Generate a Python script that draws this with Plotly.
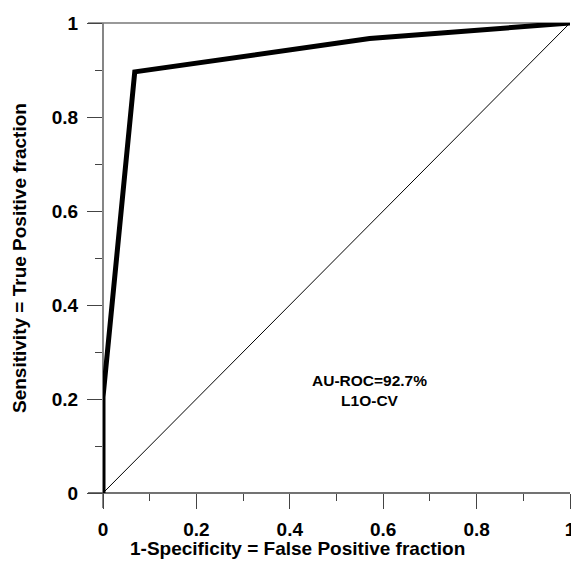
import plotly.graph_objects as go

# ROC curve points (1-specificity, sensitivity)
fpr = [0.0, 0.0, 0.068, 0.571, 1.0]
tpr = [0.0, 0.204, 0.896, 0.967, 1.0]
diag_x = [0.0, 1.0]
diag_y = [0.0, 1.0]

tick_vals = [0, 0.2, 0.4, 0.6, 0.8, 1]
tick_text = ["0", "0.2", "0.4", "0.6", "0.8", "1"]
minor_vals = [0.1, 0.3, 0.5, 0.7, 0.9]

annot_lines = ["AU-ROC=92.7%", "L1O-CV"]
x_title = "1-Specificity = False Positive fraction"
y_title = "Sensitivity = True Positive fraction"

W, H = 571, 563
L, R, T, B = 103, 1, 23, 70
pw = W - L - R
ph = H - T - B

fnt = dict(family="Liberation Sans, Arial, sans-serif", color="black", weight="bold")
axcol = "#444"

fig = go.Figure()
fig.add_trace(go.Scatter(x=diag_x, y=diag_y, mode="lines",
                         line=dict(color="black", width=1), showlegend=False, hoverinfo="skip"))
fig.add_trace(go.Scatter(x=fpr, y=tpr, mode="lines",
                         line=dict(color="black", width=5), showlegend=False,
                         cliponaxis=False))


def axis(standoff):
    return dict(range=[0, 1], tickmode="array", tickvals=tick_vals, ticktext=tick_text,
                ticks="outside", ticklen=15, tickwidth=1, tickcolor=axcol,
                showgrid=False, zeroline=False, showline=False,
                tickfont=dict(size=19, **fnt), automargin=False,
                ticklabelstandoff=standoff, ticklabeloverflow="allow",
                minor=dict(tickvals=minor_vals, ticks="outside",
                           ticklen=7, tickwidth=1, tickcolor=axcol, showgrid=False))


fig.update_layout(
    width=W, height=H,
    margin=dict(l=L, r=R, t=T, b=B, autoexpand=False),
    paper_bgcolor="white", plot_bgcolor="white",
    xaxis=axis(4),
    yaxis=axis(5),
    showlegend=False,
)

ext_x = 15 / pw
ext_y = 15 / ph
# extended axis lines
fig.add_shape(type="line", xref="paper", yref="paper", x0=-ext_x, x1=1, y0=0, y1=0,
              line=dict(color=axcol, width=1.3), layer="below")
fig.add_shape(type="line", xref="paper", yref="paper", x0=0, x1=0, y0=-ext_y, y1=1,
              line=dict(color=axcol, width=1.3), layer="below")
# top line
fig.add_shape(type="line", xref="paper", yref="paper", x0=-ext_x, x1=1, y0=1, y1=1,
              line=dict(color="#777", width=1.5), layer="below")

# axis titles as annotations (pixel placement)
fig.add_annotation(xref="paper", yref="paper", x=(297 - L) / pw, y=-(548 - (T + ph)) / ph,
                   text=x_title, showarrow=False, xanchor="center", yanchor="middle",
                   font=dict(size=19, **fnt))
fig.add_annotation(xref="paper", yref="paper", x=-(L - 19) / pw, y=0.5,
                   text=y_title, showarrow=False, xanchor="center", yanchor="middle",
                   textangle=-90, font=dict(size=19, **fnt))

fig.add_annotation(x=0.571, y=0.218, xref="x", yref="y",
                   text="<br>".join(annot_lines), showarrow=False,
                   font=dict(size=15.5, **fnt), align="center")

fig.write_html("out.html", config={"displayModeBar": False},
               post_script="document.body.style.margin='0';")
